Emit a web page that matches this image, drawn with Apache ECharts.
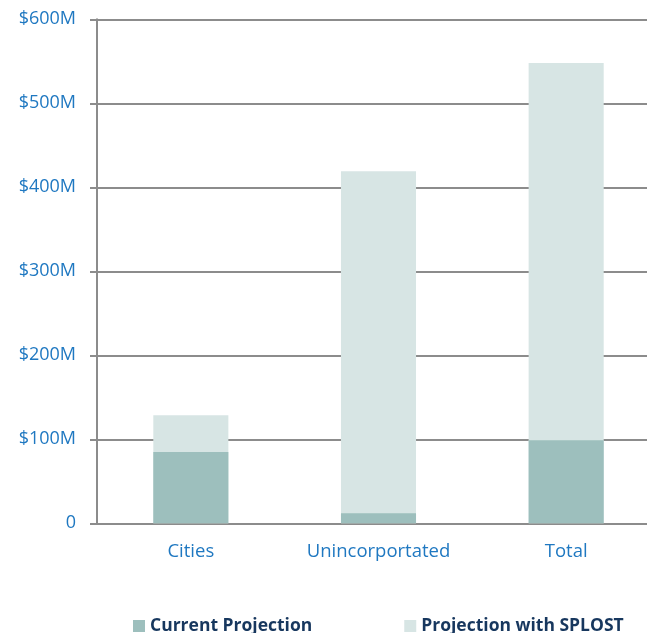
<!DOCTYPE html>
<html><head><meta charset="utf-8">
<script src="https://cdn.jsdelivr.net/npm/echarts@6/dist/echarts.min.js"></script>
<style>html,body{margin:0;padding:0;background:#fff;overflow:hidden}#c{width:662px;height:633px}</style>
</head><body><div id="c"></div>
<script>
const categories = ['Cities', 'Unincorportated', 'Total'];
const currentProjection = [85, 12, 99];
const projectionWithSplost = [128.5, 419, 548];
const yTicks = [0, 100, 200, 300, 400, 500, 600];

const chart = echarts.init(document.getElementById('c'));
const font = '"Open Sans", "Noto Sans", sans-serif';
chart.setOption({
  animation: false,
  grid: { left: 97, top: 19.3, width: 563, height: 504 },
  legend: {
    top: 612, left: 128, itemWidth: 12, itemHeight: 12, itemGap: 92,
    icon: 'rect',
    textStyle: { fontFamily: font, fontSize: 17.5, fontWeight: 'bold', color: '#17375e' },
    data: ['Current Projection', 'Projection with SPLOST']
  },
  xAxis: {
    type: 'category', data: categories,
    axisLine: { lineStyle: { color: '#8c8c8c', width: 2 } },
    axisTick: { length: 6, lineStyle: { color: '#8c8c8c', width: 2 } },
    axisLabel: { fontFamily: font, fontSize: 18.5, color: '#1f78c1', margin: 19 }
  },
  yAxis: {
    type: 'value', min: 0, max: 600, interval: 100,
    axisLine: { show: true, lineStyle: { color: '#8c8c8c', width: 2 } },
    axisTick: { show: true, length: 7, lineStyle: { color: '#8c8c8c', width: 2 } },
    splitLine: { lineStyle: { color: '#8c8c8c', width: 2 } },
    axisLabel: {
      fontFamily: font, fontSize: 18, color: '#1f78c1', margin: 21,
      formatter: v => yTicks.includes(v) ? (v === 0 ? '0' : '$' + v + 'M') : ''
    }
  },
  series: [
    { name: 'Projection with SPLOST', type: 'bar', data: projectionWithSplost,
      barWidth: '40%', barGap: '-100%', itemStyle: { color: '#d7e5e4' }, z: 3 },
    { name: 'Current Projection', type: 'bar', data: currentProjection,
      barWidth: '40%', itemStyle: { color: '#9dbfbd' }, z: 4 }
  ]
});
</script></body></html>
